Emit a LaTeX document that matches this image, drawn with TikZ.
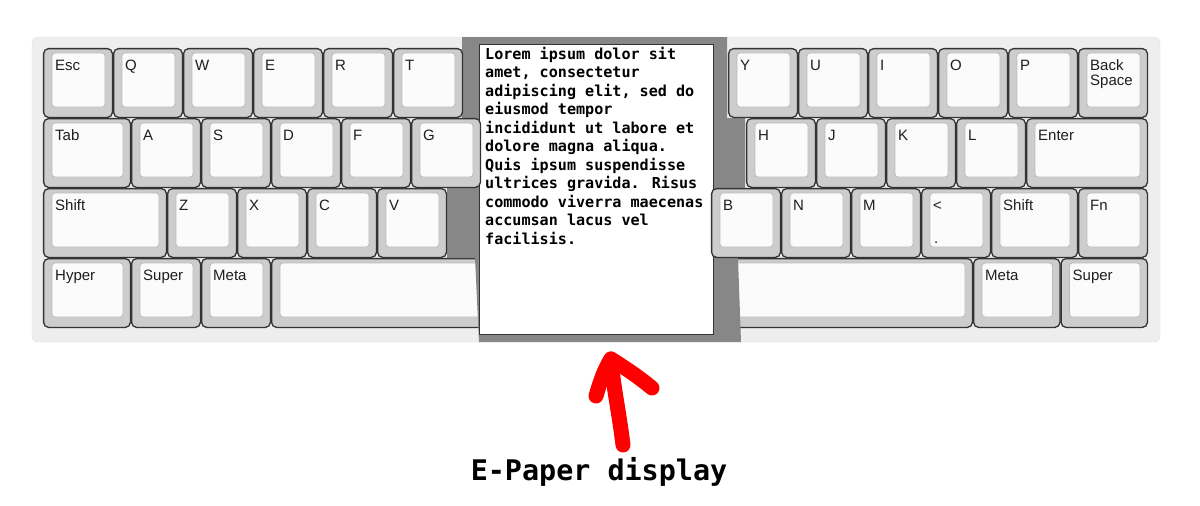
\documentclass[tikz,border=0pt]{standalone}
\usepackage{fontspec}
\setmainfont{Liberation Sans}
\newfontfamily\epaperfont{DejaVu Sans Mono}

\definecolor{kbback}{HTML}{EEEEEE}
\definecolor{kbrim}{HTML}{E0E0E0}
\definecolor{keyedge}{HTML}{333333}
\definecolor{keyside}{HTML}{CDCDCD}
\definecolor{keytop}{HTML}{FBFBFB}
\definecolor{facedge}{HTML}{BBBBBB}
\definecolor{keytext}{HTML}{1E1E1E}
\definecolor{paperframe}{HTML}{878787}
\definecolor{markred}{HTML}{FF0000}

% one key: [label drop], name, x, y, width, label
\newcommand{\kbkey}[6][22]{%
  \draw[keybody] (#3+0.6,#4+0.6) rectangle (#3+#5-0.6,#4+69.4);
  \draw[keyface] (#3+9,#4+5) rectangle (#3+#5-8,#4+59);
  \node[keylabel] (#2) at (#3+12,#4+#1) {#6};
}

\tikzset{
  keybody/.style={draw=keyedge, fill=keyside, line width=1.3pt, rounded corners=5pt},
  keyface/.style={draw=facedge, fill=keytop, line width=0.8pt, rounded corners=3pt},
  keylabel/.style={anchor=base west, inner sep=0pt, text=keytext,
    font=\fontsize{15}{15.5}\selectfont, align=left},
  screen/.style={draw=keyedge, fill=white, line width=1pt, inner sep=0pt,
    minimum width=234pt, minimum height=290pt},
  screentext/.style={anchor=north west, inner sep=0pt, align=left,
    font=\epaperfont\bfseries\fontsize{15.1}{18.5}\selectfont},
  marker/.style={draw=markred, line width=15pt, line cap=round, line join=round}
}

\begin{document}
\begin{tikzpicture}[x=1pt,y=-1pt]
    \useasboundingbox (0,0) rectangle (1200,506);
    \draw[fill=kbback, draw=kbrim, rounded corners=6pt] (32,37) rectangle (1160,342);

    % space bar runs under the display
    \kbkey{space}{271}{258}{702}{}

    % frame round the display
    \fill[paperframe] (462,37) -- (727,37) -- (727,118) -- (745,118) -- (745,258)
        -- (738,258) -- (741,342) -- (479,342) -- (475,258) -- (447,258)
        -- (447,188) -- (462,188) -- cycle;

    % left half
    \kbkey{esc}{43}{48}{70}{Esc}
    \kbkey{q}{113}{48}{70}{Q}
    \kbkey{w}{183}{48}{70}{W}
    \kbkey{e}{253}{48}{70}{E}
    \kbkey{r}{323}{48}{70}{R}
    \kbkey{t}{393}{48}{70}{T}

    \kbkey{tab}{43}{118}{88}{Tab}
    \kbkey{a}{131}{118}{70}{A}
    \kbkey{s}{201}{118}{70}{S}
    \kbkey{d}{271}{118}{70}{D}
    \kbkey{f}{341}{118}{70}{F}

    \kbkey{lshift}{43}{188}{124}{Shift}
    \kbkey{z}{167}{188}{70}{Z}
    \kbkey{x}{237}{188}{70}{X}
    \kbkey{c}{307}{188}{70}{C}
    \kbkey{v}{377}{188}{70}{V}

    \kbkey{hyper}{43}{258}{88}{Hyper}
    \kbkey{lsuper}{131}{258}{70}{Super}
    \kbkey{lmeta}{201}{258}{70}{Meta}

    % right half
    \kbkey{y}{728}{48}{70}{Y}
    \kbkey{u}{798}{48}{70}{U}
    \kbkey{i}{868}{48}{70}{I}
    \kbkey{o}{938}{48}{70}{O}
    \kbkey{p}{1008}{48}{70}{P}
    \kbkey[37.5]{bksp}{1078}{48}{70}{Back\\Space}

    \kbkey{h}{746}{118}{70}{H}
    \kbkey{j}{816}{118}{70}{J}
    \kbkey{k}{886}{118}{70}{K}
    \kbkey{l}{956}{118}{70}{L}
    \kbkey{enter}{1026}{118}{122}{Enter}

    \kbkey{n}{781}{188}{70}{N}
    \kbkey{m}{851}{188}{70}{M}
    \kbkey{lt}{921}{188}{70}{<}
    \node[keylabel] (ltdot) at (934,243) {.};
    \kbkey{rshift}{991}{188}{87}{Shift}
    \kbkey{fn}{1078}{188}{70}{Fn}

    \kbkey{rmeta}{973}{258}{87.5}{Meta}
    \kbkey{rsuper}{1060.5}{258}{87.5}{Super}

    % the e-paper display
    \node[screen] (epaper) at (596,189) {};
    \node[screentext] (lorem) at (485,47) {Lorem ipsum dolor sit\\amet, consectetur\\adipiscing elit, sed do\\eiusmod tempor\\incididunt ut labore et\\dolore magna aliqua.\\Quis ipsum suspendisse\\ultrices gravida. Risus\\commodo viverra maecenas\\accumsan lacus vel\\facilisis.};

    % these two keys sit over the display edge
    \kbkey{g}{411}{118}{70}{G}
    \kbkey{b}{711}{188}{70}{B}

    \node[anchor=base, inner sep=0pt, font=\epaperfont\bfseries\fontsize{28.4}{30}\selectfont]
        (caption) at (599,480.5) {E-Paper display};
    \coordinate (tail) at (623,445);
    \coordinate (tip) at (611,359);
    \draw[marker] (tail) .. controls (619,412) and (613,385) .. (tip);
    \draw[marker] (596,396) .. controls (600,382) and (605,368) .. (tip)
        .. controls (627,369) and (640,378) .. (652,388);
\end{tikzpicture}
\end{document}
